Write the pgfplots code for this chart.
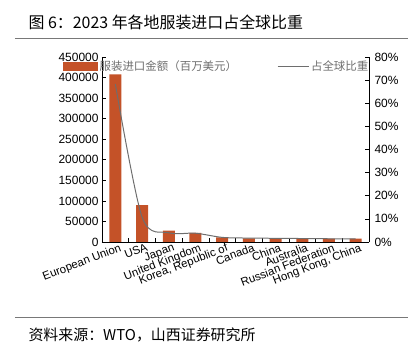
\documentclass[border=0pt]{standalone}
\usepackage{pgfplots}
\pgfplotsset{compat=1.18}
\usepackage{fontspec}
\setmainfont{Liberation Sans}
\newfontfamily\cjk{Noto Sans CJK SC}
\definecolor{barc}{RGB}{196,82,40}
\definecolor{linec}{RGB}{110,110,110}
\definecolor{rulec}{RGB}{120,120,120}
\begin{document}
\begin{tikzpicture}
\path[use as bounding box] (-102bp,-110bp) rectangle (316bp,242bp);
\begin{axis}[
  scale only axis, width=267bp, height=185bp,
  xmin=-0.5, xmax=9.5, ymin=0, ymax=450000,
  axis y line*=left, axis x line*=bottom,
  axis line style={black, line width=0.6pt},
  xtick={0,...,9},
  xticklabels={European Union,USA,Japan,United Kingdom,{Korea, Republic of},Canada,China,Australia,Russian Federation,{Hong Kong, China}},
  major x tick style={draw=none},
  minor xtick={0.5,1.5,...,8.5},
  minor tick length=4bp,
  xticklabel style={rotate=21, anchor=north east, inner sep=1pt, font=\fontsize{11.5}{12}\selectfont, xshift=4bp, yshift=-1bp},
  ytick={0,50000,...,450000},
  scaled y ticks=false,
  yticklabel style={/pgf/number format/fixed, /pgf/number format/1000 sep={}, font=\fontsize{12}{13}\selectfont},
  /pgf/number format/assume math mode=true,
  tick align=inside, major tick length=4bp,
  tick style={black, line width=0.6pt},
]
\addplot[ybar, bar width=12bp, fill=barc, draw=none] coordinates {
(0,408000) (1,90000) (2,27500) (3,22500) (4,11500) (5,9000) (6,8500) (7,8000) (8,8000) (9,8200)};
\end{axis}
\begin{axis}[
  scale only axis, width=267bp, height=185bp,
  xmin=-0.5, xmax=9.5, ymin=0, ymax=0.8,
  axis y line*=right, axis x line=none,
  axis line style={black, line width=0.6pt},
  ytick={0,0.1,...,0.8},
  yticklabel={\pgfmathparse{\tick*100}\pgfmathprintnumber[fixed,precision=0]{\pgfmathresult}\%},
  yticklabel style={font=\fontsize{12}{13}\selectfont, xshift=2bp},
  /pgf/number format/assume math mode=true,
  tick align=inside, major tick length=4bp,
  tick style={black, line width=0.6pt},
  legend columns=2,
  legend style={draw=none, fill=none, at={(rel axis cs:-0.146,0.951)}, anchor=west,
    font=\cjk\fontsize{11.5}{12}\selectfont, text=linec, inner sep=0pt,
    /tikz/every even column/.append style={column sep=38bp}},
]
\addlegendimage{legend image code/.code={\fill[barc] (0bp,-4bp) rectangle (34bp,4bp);}}
\addlegendentry{服装进口金额（百万美元）}
\addplot[linec, line width=1pt, smooth, tension=0.5, mark=none,
  legend image code/.code={\draw[linec, line width=1pt] (0bp,0bp) -- (31bp,0bp);}] coordinates {
(0,0.683) (1,0.108) (2,0.040) (3,0.038) (4,0.020) (5,0.017) (6,0.016) (7,0.015) (8,0.014) (9,0.013)};
\addlegendentry{占全球比重}
\end{axis}
\node[anchor=west, font=\cjk\fontsize{16}{18}\selectfont] at (-77bp,220bp) {图 6：2023 年各地服装进口占全球比重};
\draw[rulec, line width=0.8pt] (-87bp,204bp) -- (306bp,204bp);
\draw[rulec, line width=0.8pt] (-87bp,-75bp) -- (306bp,-75bp);
\node[anchor=west, font=\cjk\fontsize{15}{17}\selectfont] at (-77bp,-93bp) {资料来源：WTO，山西证券研究所};
\end{tikzpicture}
\end{document}
